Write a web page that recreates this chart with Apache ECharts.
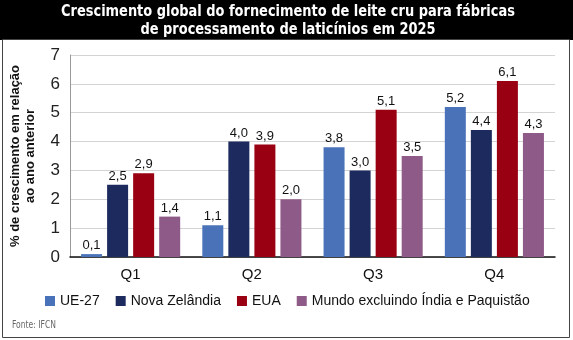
<!DOCTYPE html>
<html><head><meta charset="utf-8">
<script src="https://cdn.jsdelivr.net/npm/echarts@6/dist/echarts.min.js"></script>
<style>html,body{margin:0;padding:0;background:#fff}#c{width:573px;height:340px}</style>
</head><body><div id="c"></div>
<script>
const categories = ['Q1', 'Q2', 'Q3', 'Q4'];
const ue27 = [0.1, 1.1, 3.8, 5.2];
const novaZelandia = [2.5, 4.0, 3.0, 4.4];
const eua = [2.9, 3.9, 5.1, 6.1];
const mundo = [1.4, 2.0, 3.5, 4.3];
const seriesNames = ['UE-27', 'Nova Zelândia', 'EUA', 'Mundo excluindo Índia e Paquistão'];
const colors = ['#4a72b8', '#1c2a5e', '#990012', '#8e5a87'];
const yTicks = [0, 1, 2, 3, 4, 5, 6, 7];

const chart = echarts.init(document.getElementById('c'), null, {renderer: 'canvas'});
const dataSets = [ue27, novaZelandia, eua, mundo];
const font = 'Liberation Sans, Arial, sans-serif';
const titleFont = 'bold 16px "DejaVu Sans Condensed", sans-serif';
chart.setOption({
  animation: false,
  color: colors,
  graphic: [
    {type: 'rect', shape: {x: 0, y: 0, width: 573, height: 40}, style: {fill: '#000'}, z: 0},
    {type: 'rect', shape: {x: 2.5, y: 39.5, width: 567, height: 298}, style: {fill: 'none', stroke: '#444', lineWidth: 1}, z: 0},
    {type: 'text', x: 288, y: 12, scaleX: 0.9, z: 5, style: {
      text: 'Crescimento global do fornecimento de leite cru para fábricas',
      fill: '#fff', align: 'center', verticalAlign: 'middle', font: titleFont}},
    {type: 'text', x: 288, y: 30, scaleX: 0.9, z: 5, style: {
      text: 'de processamento de laticínios em 2025',
      fill: '#fff', align: 'center', verticalAlign: 'middle', font: titleFont}},
    {type: 'text', x: 12, y: 325, scaleX: 0.85, style: {text: 'Fonte: IFCN', fill: '#666', verticalAlign: 'middle', font: '10px "DejaVu Sans Condensed", sans-serif'}}
  ],
  legend: {
    left: 45, top: 294, itemWidth: 10, itemHeight: 10, itemGap: 16, padding: 0,
    icon: 'rect',
    textStyle: {fontSize: 14, color: '#111', fontFamily: font},
    data: seriesNames
  },
  grid: {left: 57, right: 18, top: 55, bottom: 83},
  xAxis: {
    type: 'category', data: categories,
    axisLine: {lineStyle: {color: '#111', width: 1.5}},
    axisTick: {show: false},
    axisLabel: {fontSize: 15, color: '#111', margin: 10, fontFamily: font}
  },
  yAxis: {
    type: 'value', min: 0, max: 7, interval: 1,
    name: '% de crescimento em relação\nao ano anterior',
    nameLocation: 'middle', nameRotate: 90, nameGap: 32,
    nameTextStyle: {fontSize: 13, fontWeight: 'bold', color: '#111', lineHeight: 15, fontFamily: font},
    axisLine: {show: true, lineStyle: {color: '#999'}},
    axisLabel: {fontSize: 17, color: '#222', margin: 10, fontFamily: font},
    splitLine: {lineStyle: {color: '#d4d4d4'}}
  },
  series: dataSets.map((d, i) => ({
    name: seriesNames[i], type: 'bar', data: d,
    barWidth: 21, barGap: '24%', barCategoryGap: '20%',
    label: {show: true, position: 'top', distance: 2, fontSize: 13, color: '#111', fontFamily: font,
      formatter: p => p.value.toFixed(1).replace('.', ',')}
  }))
});
</script></body></html>
